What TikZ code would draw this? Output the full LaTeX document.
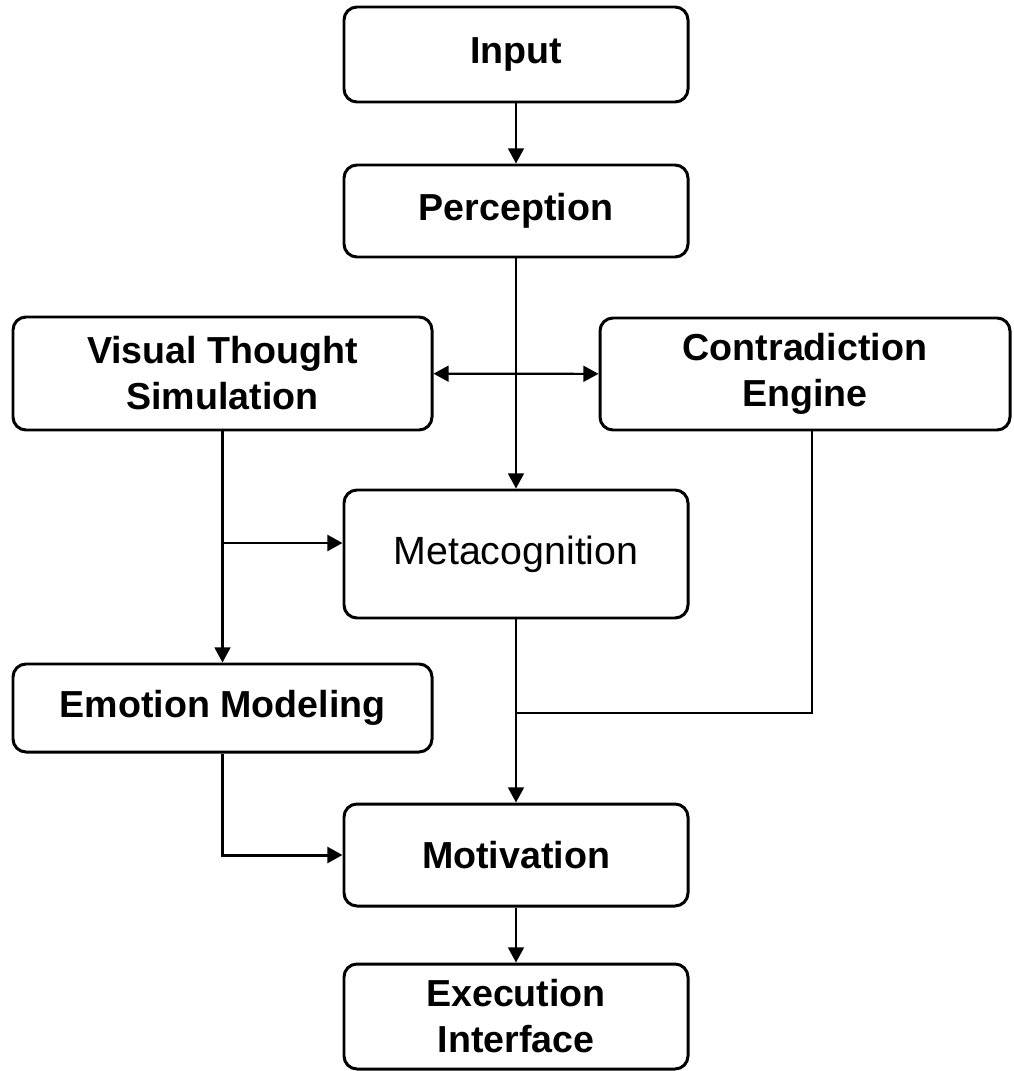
\documentclass[tikz,border=0pt]{standalone}
\usepackage{fontspec}
\setmainfont{Liberation Sans}
\usetikzlibrary{arrows.meta}

\begin{document}
\begin{tikzpicture}[>={Triangle[length=4.3pt,width=4.5pt]},
  box/.style={draw, line width=0.85pt, rounded corners=3.7pt, align=center, inner sep=0pt, minimum width=3.44cm, font=\fontsize{10.7}{13.1}\selectfont\bfseries},
  wide/.style={box, minimum width=4.19cm},
  link/.style={line width=0.6pt, ->},
  feed/.style={line width=0.85pt, ->}]
\useasboundingbox (0,0) rectangle (10.13,-10.71);
\path (5.16,-0.545) node[box, minimum height=0.95cm](Input){Input} (5.16,-2.11) node[box, minimum height=0.92cm](Perception){Perception} (2.225,-3.735) node[wide, minimum height=1.13cm](Visual){Visual Thought\\Simulation} (8.05,-3.74) node[box, minimum width=4.1cm, minimum height=1.12cm](Contradiction){Contradiction\\Engine} (5.16,-5.54) node[box, minimum height=1.28cm, font=\fontsize{11.2}{13.4}\selectfont](Metacognition){Metacognition} (2.225,-7.08) node[wide, minimum height=0.88cm](Emotion){Emotion Modeling} (5.16,-8.55) node[box, minimum height=1.02cm](Motivation){Motivation} (5.16,-10.165) node[box, minimum height=1.05cm](Execution){Execution\\Interface};

\coordinate (branch) at (2.21,-5.43);
\coordinate (join) at (5.16,-7.13);

\draw[link] (Input) -- (Perception);
\draw[link] (Perception) -- (Metacognition);
\draw[link, <->] (Visual) -- (Contradiction);
\draw[link] (Visual) -- (Emotion);
\draw[feed] (branch) -- (Metacognition.west |- branch);
\draw[line width=0.6pt] ([xshift=0.07cm]Contradiction.south) |- (join);
\draw[link] (Metacognition) -- (Motivation);
\draw[feed] (Emotion) |- (Motivation);
\draw[link] (Motivation) -- (Execution);
\end{tikzpicture}
\end{document}
